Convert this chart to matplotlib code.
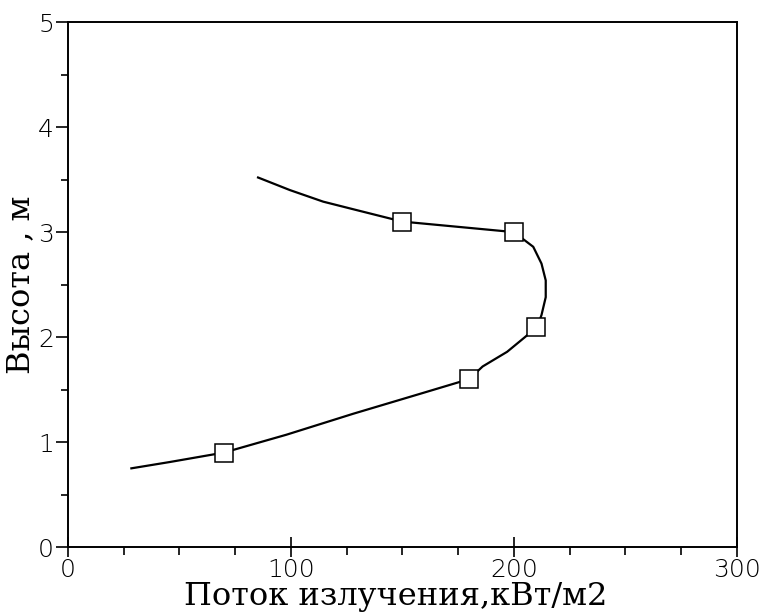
"""Высота и поток излучения"""

import matplotlib.pyplot as plt

# измеренные точки (маркеры)
flux = [70, 180, 210, 200, 150]
height = [0.9, 1.6, 2.1, 3.0, 3.1]

# сглаженная кривая
curve_x = [28.5, 45.7, 70, 98, 128, 158, 180, 186, 197, 205, 210.5, 212.4,
           214.3, 214.3, 212.4, 208.7, 200, 175, 150, 129.4, 114.5, 99.6, 85.3]
curve_y = [0.75, 0.81, 0.9, 1.07, 1.27, 1.46, 1.6, 1.72, 1.86, 2.0, 2.1, 2.21,
           2.38, 2.54, 2.70, 2.86, 3.0, 3.05, 3.1, 3.21, 3.29, 3.40, 3.52]

x_ticks = [0, 100, 200, 300]
y_ticks = [0, 1, 2, 3, 4, 5]

fig = plt.figure(figsize=(7.62, 6.14), dpi=100)
ax = fig.add_axes([0.089, 0.109, 0.878, 0.855])

ax.plot(curve_x, curve_y, color="black", linewidth=1.6, zorder=2)
ax.plot(flux, height, linestyle="none", marker="s", markersize=13,
        markerfacecolor="white", markeredgecolor="black",
        markeredgewidth=1.1, zorder=3)

ax.set_xlim(0, 300)
ax.set_ylim(0, 5)
ax.set_xticks(x_ticks)
ax.set_yticks(y_ticks)
ax.set_xticks([25, 50, 75, 125, 150, 175, 225, 250, 275], minor=True)
ax.set_yticks([0.5, 1.5, 2.5, 3.5, 4.5], minor=True)

tick_font = dict(family="DejaVu Sans", weight="light", size=18)
ax.set_xticklabels([str(v) for v in x_ticks], fontdict=tick_font)
ax.set_yticklabels([str(v) for v in y_ticks], fontdict=tick_font)
ax.tick_params(axis="y", which="major", direction="out", length=9,
               width=1.2, pad=1)
ax.tick_params(axis="y", which="minor", direction="out", length=5,
               width=1.2)
ax.tick_params(axis="x", which="major", direction="inout", length=14,
               width=1.2, pad=1)
ax.tick_params(axis="x", which="minor", direction="out", length=6,
               width=1.2)

for s in ax.spines.values():
    s.set_linewidth(1.4)

label_font = dict(family="DejaVu Serif", size=23)
ax.set_xlabel("Поток излучения,кВт/м2", fontdict=label_font)
ax.xaxis.label.set_va("baseline")
ax.xaxis.set_label_coords(0.49, -0.11)
ax.set_ylabel("Высота , м", fontdict=label_font)
ax.yaxis.label.set_va("center")
ax.yaxis.set_label_coords(-0.07, 0.5)

fig.savefig("out.png", dpi=100)
